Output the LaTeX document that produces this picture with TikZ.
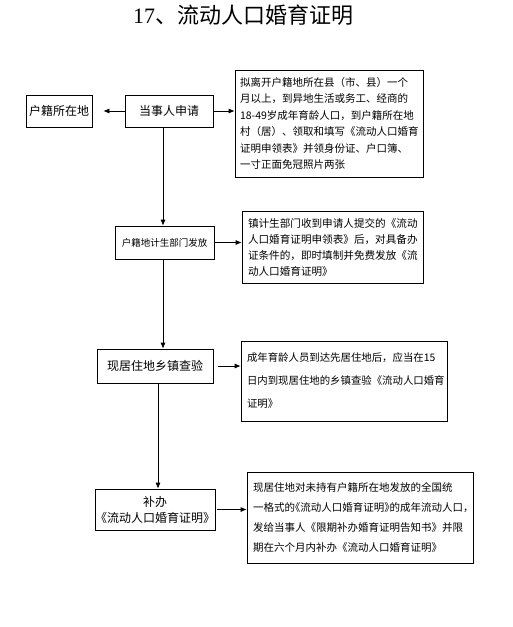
\documentclass[tikz,border=0pt]{standalone}
\usepackage{fontspec}
\setmainfont{Liberation Serif}
\newfontfamily\cjk{Noto Sans CJK SC}
\newfontfamily\cjkhalf[RawFeature=+halt]{Noto Sans CJK SC}
\usetikzlibrary{arrows.meta}

\tikzset{
  box/.style={draw, line width=0.7pt, inner sep=0pt, font=\cjk\fontsize{12}{14}\selectfont},
  note/.style={draw, line width=0.7pt, inner xsep=6pt, inner ysep=0pt, align=left},
  flow/.style={line width=0.7pt, -{Latex[length=6pt,width=5pt]}}
}

\begin{document}
\begin{tikzpicture}[x=1pt,y=-1pt]
\useasboundingbox (0,0) rectangle (512,627);

% Title
\node (title) at (243,15) {\fontsize{22}{24}\selectfont 17{\cjk 、流动人口婚育证明}};

% Left column
\node[box, minimum width=66pt, minimum height=32pt] (huji) at (59,111) {户籍所在地};
\node[box, minimum width=88pt, minimum height=32pt] (shenqing) at (169,111) {当事人申请};
\node[box, minimum width=99pt, minimum height=33pt, font=\cjk\fontsize{9.5}{11}\selectfont] (fafang) at (164.5,242.5) {户籍地计生部门发放};
\node[box, minimum width=116pt, minimum height=34pt] (chayan) at (155,366) {现居住地乡镇查验};
\node[box, minimum width=116pt, minimum height=41pt, align=center, font=\cjk\fontsize{12}{16}\selectfont] (buban) at (155,509.5) {补办\\《流动人口婚育证明》};

% Right column
\node[note, text width=178pt, inner xsep=5pt, minimum height=107pt, font=\cjk\fontsize{10.5}{16.5}\selectfont] (shuoming1) at (329,123.5) {拟离开户籍地所在县（市、县）一个\\月以上，到异地生活或务工、经商的\\\mbox{18-49岁成年育龄人口，到户籍所在地}\\村（居）、领取和填写《流动人口婚育\\证明申领表》并领身份证、户口簿、\\一寸正面免冠照片两张};
\node[note, text width=169pt, minimum height=72pt, font=\cjk\fontsize{10.6}{16}\selectfont] (shuoming2) at (332.5,247) {镇计生部门收到申请人提交的《流动\\人口婚育证明申领表》后，对具备办\\证条件的，即时填制并免费发放《流\\动人口婚育证明》};
\node[note, text width=194pt, minimum height=80pt, font=\cjk\fontsize{10.4}{23}\selectfont] (shuoming3) at (344,381) {成年育龄人员到达先居住地后，应当在15\\日内到现居住地的乡镇查验《流动人口婚育\\证明》};
\node[note, text width=214pt, minimum height=91pt, font=\cjk\fontsize{10.5}{20}\selectfont] (shuoming4) at (360,517.5) {现居住地对未持有户籍所在地发放的全国统\\{\cjkhalf 一格式的《流动人口婚育证明》的成年流动人口，}\\发给当事人《限期补办婚育证明告知书》并限\\期在六个月内补办《流动人口婚育证明》};

% Horizontal arrows
\draw[flow, shorten >=11pt] (shenqing.west) -- (huji.east);
\draw[flow] (shenqing.east) -- (shuoming1.west |- shenqing.east);
\draw[flow] (fafang.east) -- (shuoming2.west |- fafang.east);
\draw[flow, shorten <=5pt] (chayan.east) -- (shuoming3.west |- chayan.east);
\draw[flow, shorten <=2pt] (buban.east) -- (shuoming4.west |- buban.east);

% Vertical arrows
\draw[flow] ([xshift=-6pt]shenqing.south) -- ([xshift=-1.5pt]fafang.north);
\draw[flow] ([xshift=-1.5pt]fafang.south) -- ([xshift=8pt]chayan.north);
\draw[flow] ([xshift=3pt]chayan.south) -- ([xshift=3pt]buban.north);

\end{tikzpicture}
\end{document}
